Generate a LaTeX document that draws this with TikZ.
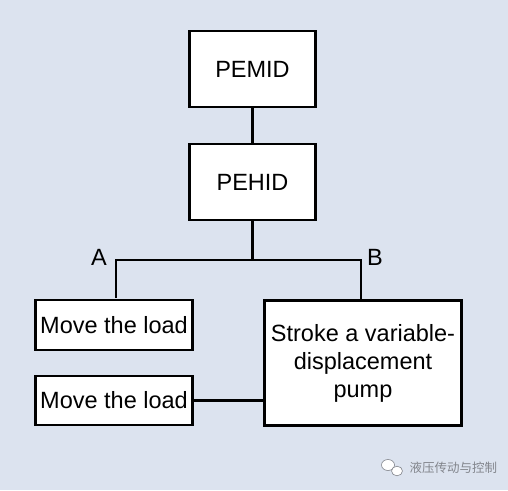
\documentclass[tikz,border=0pt]{standalone}
\usepackage{fontspec}
\setmainfont{Liberation Sans}
\newfontfamily\cjk{Noto Sans CJK SC}
\usepackage{xcolor}
\usepackage{tikz}
\usetikzlibrary{positioning}
\definecolor{bgblue}{RGB}{220,227,239}
\definecolor{markgray}{RGB}{130,133,140}

\begin{document}
\begin{tikzpicture}[x=1pt,y=-1pt,
    box/.style={draw, line width=2.8pt, fill=white, align=center, inner sep=2pt,
      font=\fontsize{23.5}{28}\selectfont},
    link/.style={line width=2.8pt}]
          \fill[bgblue] (0,0) rectangle (508,490);
          \useasboundingbox (0,0) rectangle (508,490);

          \node[box, minimum width=126pt, minimum height=76pt] (pemid) at (252.5,69) {PEMID};
          \node[box, minimum width=126pt, minimum height=76pt] (pehid) at (252.5,182) {PEHID};
          \node[box, minimum width=157pt, minimum height=50pt] (load1) at (114,325) {Move the load};
          \node[box, minimum width=157pt, minimum height=49pt] (load2) at (114,400.5) {Move the load};
          \node[box, minimum width=197pt, minimum height=125pt] (stroke) at (363,363) {Stroke a variable-\\displacement\\pump};

          \node[font=\fontsize{23.5}{28}\selectfont] (labA) at (99,257) {A};
          \node[font=\fontsize{23.5}{28}\selectfont] (labB) at (375,257) {B};

          \coordinate (split) at (252.5,260);
          \coordinate (dropA) at (116,298);
          \coordinate (dropB) at (361,299);

          \draw[link] (pemid) -- (pehid);
          \draw[link] (pehid) -- (split);
          \draw[link] (dropA) -- (dropA |- split) -- (dropB |- split) -- (dropB);
          \draw[link] (load2.east) -- (stroke.west |- load2.east);

          % watermark
          \draw[markgray, fill=white, line width=0.6pt] (388,465) ellipse (6.5 and 5.5);
          \draw[markgray, fill=white, line width=0.6pt] (397,471) ellipse (5.5 and 4.8);
          \node[markgray, font=\cjk\fontsize{12.5}{14}\selectfont, anchor=west] (mark) at (406,468) {液压传动与控制};
        \end{tikzpicture}
\end{document}
